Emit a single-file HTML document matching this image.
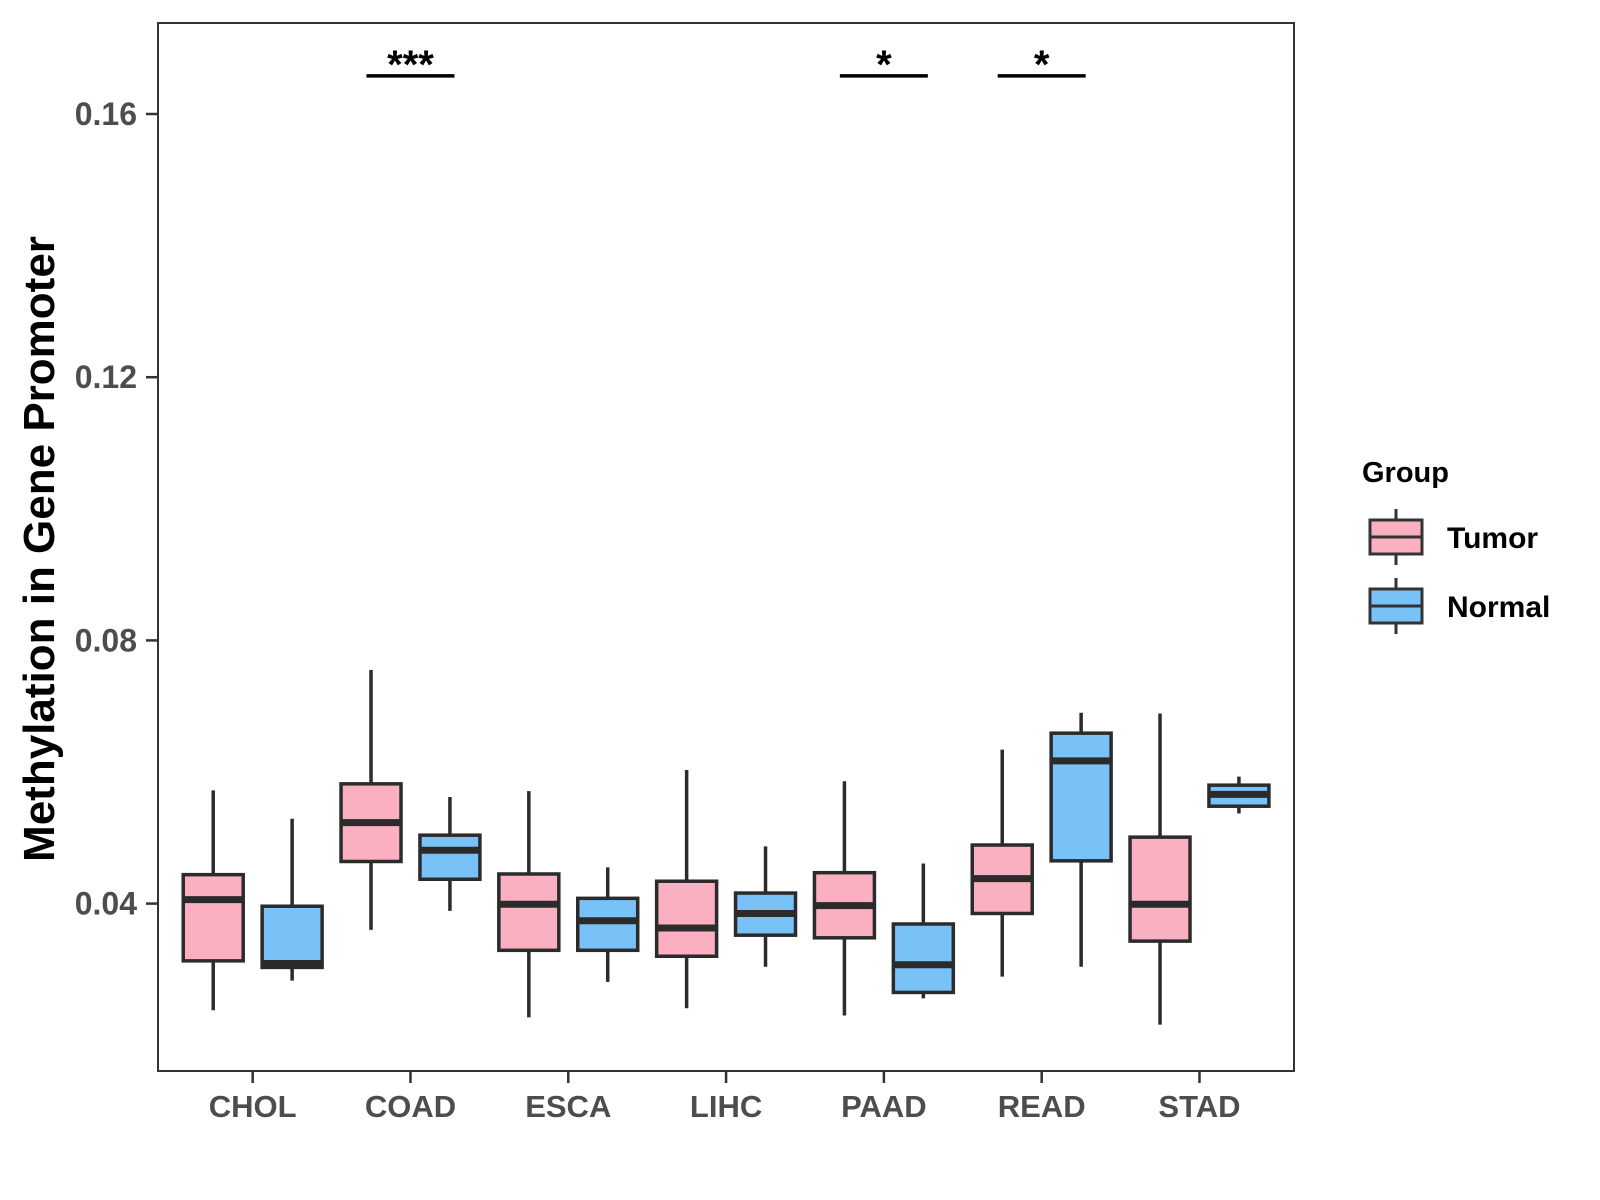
<!DOCTYPE html>
<html><head><meta charset="utf-8"><style>
body{margin:0;background:#fff;}
svg{display:block;font-family:"Liberation Sans",Arial,sans-serif;}
</style></head><body>
<svg id="chart" width="1600" height="1200" xmlns="http://www.w3.org/2000/svg">
<rect x="0" y="0" width="1600" height="1200" fill="#fff"/>
<g id="plot"></g>
<rect x="158" y="23" width="1136" height="1048" fill="none" stroke="#333" stroke-width="2"/>
<text transform="translate(54,549) rotate(-90)" text-anchor="middle" font-size="44" font-weight="bold" fill="#000">Methylation in Gene Promoter</text>
<g>
<text x="1362" y="482" font-size="29" font-weight="bold" fill="#000">Group</text>
<g>
<line x1="1396" y1="509" x2="1396" y2="565" stroke="#333" stroke-width="3"/>
<rect x="1370" y="520" width="52" height="34" fill="#fbb0c1" stroke="#333" stroke-width="3"/>
<line x1="1370" y1="537" x2="1422" y2="537" stroke="#333" stroke-width="3"/>
<text x="1447" y="548" font-size="30" font-weight="bold" fill="#000">Tumor</text>
</g>
<g>
<line x1="1396" y1="578" x2="1396" y2="634" stroke="#333" stroke-width="3"/>
<rect x="1370" y="589" width="52" height="34" fill="#79c2f8" stroke="#333" stroke-width="3"/>
<line x1="1370" y1="606" x2="1422" y2="606" stroke="#333" stroke-width="3"/>
<text x="1447" y="617" font-size="30" font-weight="bold" fill="#000">Normal</text>
</g>
</g>
</svg>
<script>
const categories=["CHOL","COAD","ESCA","LIHC","PAAD","READ","STAD"];
const groups=["Tumor","Normal"];
// [min, q1, median, q3, max] per category
const tumorStats=[[0.0238,0.0313,0.0406,0.0444,0.0572],[0.0360,0.0464,0.0523,0.0582,0.0755],[0.0227,0.0329,0.0399,0.0445,0.0571],[0.0241,0.0320,0.0363,0.0434,0.0603],[0.0230,0.0348,0.0397,0.0447,0.0586],[0.0289,0.0385,0.0438,0.0489,0.0634],[0.0216,0.0343,0.0399,0.0501,0.0689]];
const normalStats=[[0.0283,0.0303,0.0309,0.0396,0.0529],[0.0389,0.0437,0.0481,0.0504,0.0562],[0.0281,0.0329,0.0374,0.0408,0.0455],[0.0304,0.0352,0.0385,0.0416,0.0487],[0.0256,0.0265,0.0307,0.0369,0.0461],[0.0304,0.0465,0.0617,0.0659,0.0690],[0.0537,0.0548,0.0566,0.0580,0.0593]];
const yTicks=[0.04,0.08,0.12,0.16];
const yTickLabels=["0.04","0.08","0.12","0.16"];
const sigCategories=["COAD","PAAD","READ"];
const sigLabels=["***","*","*"];
const sigLevel=0.1658;

const NS="http://www.w3.org/2000/svg";
const plot=document.getElementById('plot');
const svg=document.getElementById('chart');
function xScale(i){return 158+(i+1-0.4)*157.8;}
function yScale(v){return 114+(0.16-v)*6580;}
function mk(tag,attrs,parent){const e=document.createElementNS(NS,tag);for(const k in attrs)e.setAttribute(k,attrs[k]);(parent||plot).appendChild(e);return e;}

yTicks.forEach((t,i)=>{
  const y=yScale(t);
  const tk=mk('line',{x1:146,x2:158,y1:y,y2:y,stroke:'#333','stroke-width':2.5},svg);
  
  
  const tx=mk('text',{x:137,y:y+11,'text-anchor':'end','font-size':32,'font-weight':'bold',fill:'#4d4d4d'},svg);
  tx.textContent=yTickLabels[i];
  
  
});
categories.forEach((c,i)=>{
  const x=xScale(i);
  const tk=mk('line',{x1:x,x2:x,y1:1071,y2:1083,stroke:'#333','stroke-width':2.5},svg);
  
  
  const tx=mk('text',{x:x,y:1117,'text-anchor':'middle','font-size':31,'font-weight':'bold',fill:'#4d4d4d'},svg);
  tx.textContent=c;
  
  
});
function drawBox(i,s,off,fill,name){
  const cx=xScale(i)+off*157.8, hw=0.19*157.8;
  const g=mk('g',{});
  
  
  mk('line',{x1:cx,x2:cx,y1:yScale(s[0]),y2:yScale(s[4]),stroke:'#2b2b2b','stroke-width':3.5},g);
  mk('rect',{x:cx-hw,y:yScale(s[3]),width:2*hw,height:yScale(s[1])-yScale(s[3]),fill:fill,stroke:'#2b2b2b','stroke-width':3.5},g);
  mk('line',{x1:cx-hw,x2:cx+hw,y1:yScale(s[2]),y2:yScale(s[2]),stroke:'#2b2b2b','stroke-width':7},g);
}
categories.forEach((c,i)=>{
  drawBox(i,tumorStats[i],-0.25,'#fbb0c1','box-tumor-'+c.toLowerCase());
  drawBox(i,normalStats[i],0.25,'#79c2f8','box-normal-'+c.toLowerCase());
});
sigCategories.forEach((c,k)=>{
  const i=categories.indexOf(c), x=xScale(i), y=yScale(sigLevel);
  const ln=mk('line',{x1:x-44,x2:x+44,y1:y,y2:y,stroke:'#000','stroke-width':3.5});
  
  
  const tx=mk('text',{x:x,y:y+2,'text-anchor':'middle','font-size':40,'font-weight':'bold',fill:'#000'});
  tx.textContent=sigLabels[k];
  
  
});
</script>
</body></html>
